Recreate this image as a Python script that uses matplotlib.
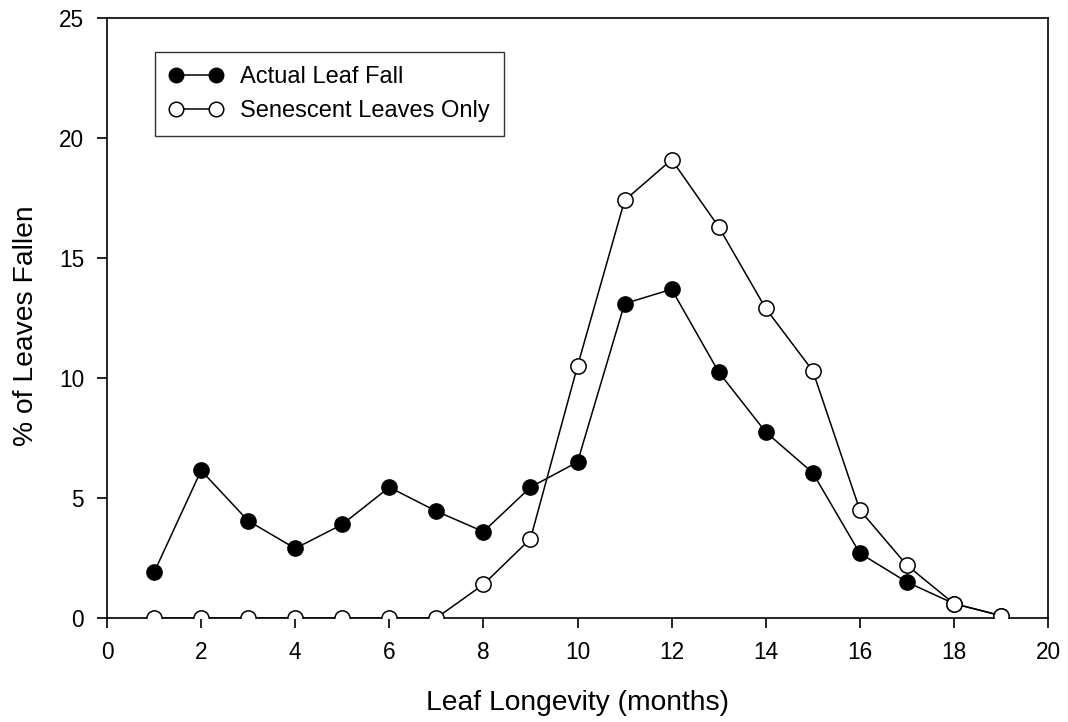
import matplotlib
matplotlib.use("Agg")
import matplotlib.pyplot as plt

plt.rcParams['font.family'] = ['Liberation Sans', 'DejaVu Sans']

months = list(range(1, 20))
actual = [1.9, 6.15, 4.05, 2.9, 3.9, 5.45, 4.45, 3.6, 5.45, 6.5, 13.1, 13.7, 10.25, 7.75, 6.05, 2.7, 1.5, 0.6, 0.1]
senescent = [0, 0, 0, 0, 0, 0, 0, 1.4, 3.3, 10.5, 17.4, 19.1, 16.3, 12.9, 10.3, 4.5, 2.2, 0.6, 0.1]

fig = plt.figure(figsize=(10.68, 7.22), dpi=100)
ax = fig.add_axes([0.1002, 0.144, 0.8811, 0.831])

ax.plot(months, actual, color='black', lw=1.1, marker='o', ms=11,
        mfc='black', mec='black', label='Actual Leaf Fall', zorder=3)
ax.plot(months, senescent, color='black', lw=1.1, marker='o', ms=11,
        mfc='white', mec='black', mew=1.1, label='Senescent Leaves Only', zorder=3)

ax.set_xlim(0, 20)
ax.set_ylim(0, 25)
ax.set_xticks(range(0, 21, 2))
ax.set_yticks(range(0, 26, 5))
ax.tick_params(direction='out', length=7.5, width=1.2, labelsize=16.3, pad=9)
for s in ax.spines.values():
    s.set_linewidth(1.2)

ax.set_xlabel('Leaf Longevity (months)', fontsize=20.3, labelpad=19)
ax.set_ylabel('% of Leaves Fallen', fontsize=20.3, labelpad=14)
ax.yaxis.label.set_y(0.488)

leg = ax.legend(loc='upper left', bbox_to_anchor=(0.0510, 0.943), fontsize=17,
                numpoints=2, markerscale=0.95,
                frameon=True, fancybox=False, edgecolor='black',
                borderpad=0.6, handlelength=2.3, handletextpad=0.7,
                labelspacing=0.5, borderaxespad=0)
leg.get_frame().set_linewidth(1.0)

fig.savefig('out.png', dpi=100)
